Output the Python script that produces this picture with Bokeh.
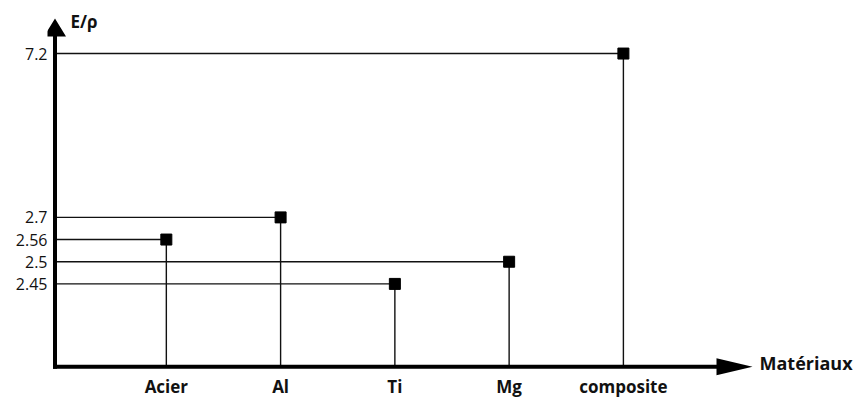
from bokeh.plotting import figure
from bokeh.models import (FactorRange, ColumnDataSource, Whisker, Label, LabelSet,
                          PolyAnnotation)
from bokeh.core.properties import value
from bokeh.embed import file_html
from bokeh.resources import INLINE

# ---- data ----
materials = ["Acier", "Al", "Ti", "Mg", "composite"]
e_rho = [2.56, 2.7, 2.45, 2.5, 7.2]
y_tick_labels = ["2.45", "2.5", "2.56", "2.7", "7.2"]

FONT = "Open Sans"
INK = "#111111"

# frame-relative (screen) position of the two drawn axes
X_AXIS_SY = 32.7   # height of the x axis above the frame bottom
Y_AXIS_SX = 7.5    # offset of the y axis from the frame left


def group_of(v):
    # schematic (ordinal) E/rho axis: the low cluster and the high value
    return "bas" if float(v) < 5 else "haut"


# blank spacer slots below the values on the ordinal axis, and right of the materials
y_spacers = [("bas", ""), ("bas", " "), ("bas", "  ")]
y_factors = y_spacers + [(group_of(t), t) for t in y_tick_labels]
x_factors = materials + [""]

x_range = FactorRange(factors=x_factors, range_padding=0.54,
                      range_padding_units="absolute")
y_range = FactorRange(factors=y_factors, factor_padding=0, group_padding=6.387,
                      range_padding=1.712, range_padding_units="absolute")

p = figure(x_range=x_range, y_range=y_range, width=856, height=399,
           output_backend="svg", toolbar_location=None,
           x_axis_location=None, y_axis_location="left",
           min_border_left=47, min_border_right=0,
           min_border_top=4, min_border_bottom=0)

source = ColumnDataSource(dict(
    x=materials,
    y=[(group_of(v), f"{v:g}") for v in e_rho],
))

# guide lines: from the E/rho axis to the point, and from the point down to the x axis
p.add_layout(Whisker(source=source, base="y", upper="x", lower=Y_AXIS_SX,
                     lower_units="screen", dimension="width",
                     line_color=INK, line_width=1.4,
                     lower_head=None, upper_head=None))
p.add_layout(Whisker(source=source, base="x", upper="y", lower=X_AXIS_SY,
                     lower_units="screen", dimension="height",
                     line_color=INK, line_width=1.4,
                     lower_head=None, upper_head=None))

p.scatter("x", "y", source=source, marker="square", size=11,
          fill_color="black", line_color="black")

# axis arrows (shaft + head), in screen units from the frame's lower-left corner
ax, ay = Y_AXIS_SX, X_AXIS_SY
p.add_layout(PolyAnnotation(xs=[ax - 2, ax + 2, ax + 2, ax + 11, ax, ax - 11, ax - 2],
                            ys=[ay - 2, ay - 2, 363, 363, 381, 363, 363],
                            xs_units="screen", ys_units="screen",
                            fill_color="black", fill_alpha=1, line_color=None))
p.add_layout(PolyAnnotation(xs=[ax - 2, 669, 669, 705, 669, 669, ax - 2],
                            ys=[ay - 2, ay - 2, ay - 8.5, ay, ay + 8.5, ay + 2, ay + 2],
                            xs_units="screen", ys_units="screen",
                            fill_color="black", fill_alpha=1, line_color=None))

# material labels under the x axis
xtick_src = ColumnDataSource(dict(x=materials, text=materials))
p.add_layout(LabelSet(source=xtick_src, x="x", y=6.3, y_units="screen", text="text",
                      text_font=value(FONT), text_font_size=value("17px"),
                      text_font_style=value("bold"),
                      text_color=INK, text_align="center", text_baseline="alphabetic"))

# axis titles
p.add_layout(Label(x=23, y=378, x_units="screen", y_units="screen", text="E/ρ",
                   text_font=FONT, text_font_style="bold", text_font_size="17px",
                   text_color=INK, text_baseline="middle", text_align="left"))
p.add_layout(Label(x=712, y=37, x_units="screen", y_units="screen", text="Matériaux",
                   text_font=FONT, text_font_style="bold", text_font_size="18px",
                   text_color=INK, text_baseline="middle", text_align="left"))

# E/rho tick labels come from the (line-less) categorical y axis
yax = p.yaxis[0]
yax.axis_line_color = None
yax.major_tick_line_color = None
yax.minor_tick_line_color = None
yax.major_tick_in = 0
yax.major_tick_out = 0
yax.major_label_text_font = FONT
yax.major_label_text_color = INK
yax.major_label_text_font_size = "16px"
yax.major_label_standoff = 0
yax.group_text_font_size = "1px"
yax.group_text_alpha = 0
yax.separator_line_color = None

p.xgrid.visible = False
p.ygrid.visible = False
p.outline_line_color = None
p.background_fill_color = "white"
p.border_fill_color = "white"

open("out.html", "w").write(file_html(p, INLINE))
